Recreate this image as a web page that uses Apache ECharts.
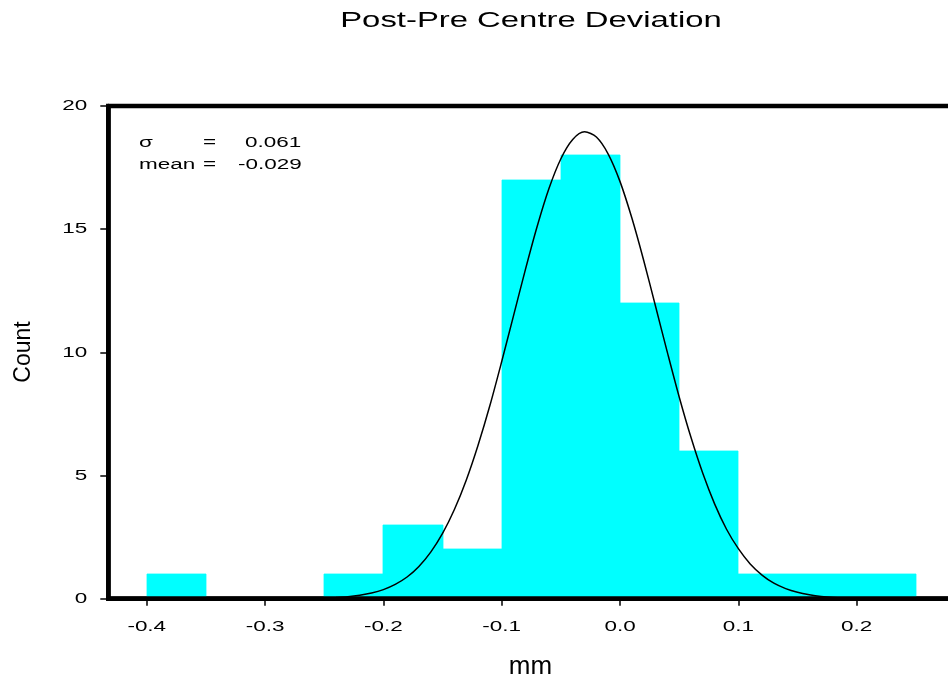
<!DOCTYPE html>
<html><head><meta charset="utf-8">
<script src="https://cdn.jsdelivr.net/npm/echarts@6/dist/echarts.min.js"></script>
<style>html,body{margin:0;padding:0;background:#fff}#c{width:948px;height:681px}</style>
</head><body><div id="c"></div>
<script>
const chartTitle = 'Post-Pre Centre Deviation';
const xAxisName = 'mm';
const yAxisName = 'Count';
const binLeft = [-0.4, -0.35, -0.3, -0.25, -0.2, -0.15, -0.1, -0.05, 0.0, 0.05, 0.1, 0.15, 0.2];
const binWidth = 0.05;
const binCounts = [1, 0, 0, 1, 3, 2, 17, 18, 12, 6, 1, 1, 1];
const curveX = [-0.25,-0.24,-0.23,-0.22,-0.21,-0.20,-0.19,-0.18,-0.17,-0.16,-0.15,-0.14,-0.13,-0.12,-0.11,-0.10,-0.09,-0.08,-0.07,-0.06,-0.05,-0.04,-0.03,-0.02,-0.01,0.00,0.01,0.02,0.03,0.04,0.05,0.06,0.07,0.08,0.09,0.10,0.11,0.12,0.13,0.14,0.15,0.16,0.17,0.18,0.19];
const curveY = [0.03,0.05,0.08,0.14,0.23,0.37,0.58,0.88,1.31,1.89,2.65,3.62,4.81,6.23,7.84,9.63,11.49,13.36,15.12,16.66,17.86,18.64,18.95,18.74,18.05,16.93,15.45,13.73,11.87,10.00,8.19,6.54,5.08,3.84,2.82,2.03,1.41,0.96,0.63,0.41,0.26,0.16,0.09,0.05,0.03];
const xTickValues = [-0.4, -0.3, -0.2, -0.1, 0.0, 0.1, 0.2];
const xTickLabels = ['-0.4', '-0.3', '-0.2', '-0.1', '0.0', '0.1', '0.2'];
const yTickValues = [0, 5, 10, 15, 20];
const yTickLabels = ['0', '5', '10', '15', '20'];
const statNames = ['\u03C3', 'mean'];
const statValues = ['0.061', '-0.029'];

const FONT = '"Liberation Sans", Arial, Helvetica, sans-serif';
const STRETCH = 1.45;
const chart = echarts.init(document.getElementById('c'), null, {renderer: 'canvas'});
const barData = binLeft.map((x, i) => [x, +(x + binWidth).toFixed(4), binCounts[i]]);
const curveData = curveX.map((x, i) => [x, curveY[i]]);

chart.setOption({
  animation: false,
  backgroundColor: '#fff',
  grid: {left: 108.3, top: 106, width: 846, height: 492.7, show: true, borderColor: '#000', borderWidth: 4.5, backgroundColor: 'transparent', outerBoundsMode: 'none', containLabel: false},
  xAxis: {
    type: 'value', min: -0.4325, max: 0.2825, z: 10,
    axisLine: {show: true, onZero: false, lineStyle: {color: '#000', width: 4.5}},
    axisTick: {show: true, customValues: xTickValues, length: 7, lineStyle: {color: '#000', width: 1.5}},
    axisLabel: {show: false}, splitLine: {show: false}
  },
  yAxis: {
    type: 'value', min: 0, max: 20, interval: 5, z: 10,
    axisLine: {show: true, onZero: false, lineStyle: {color: '#000', width: 4.5}},
    axisTick: {show: true, length: 8, lineStyle: {color: '#000', width: 1.5}},
    axisLabel: {show: false}, splitLine: {show: false}
  },
  series: [
    {
      type: 'custom', z: 2, silent: true,
      encode: {x: [0, 1], y: 2},
      data: barData,
      renderItem: function (params, api) {
        const p0 = api.coord([api.value(0), api.value(2)]);
        const p1 = api.coord([api.value(1), 0]);
        const x0 = Math.round(p0[0]), x1 = Math.round(p1[0]);
        const y0 = Math.round(p0[1]);
        return {type: 'rect', shape: {x: x0, y: y0, width: x1 - x0, height: p1[1] - y0},
          style: {fill: '#00FFFF', stroke: '#00FFFF', lineWidth: 0.8}};
      }
    },
    {
      type: 'line', z: 3, silent: true, data: curveData, showSymbol: false, symbol: 'none',
      smooth: 0.3, lineStyle: {color: '#000', width: 1.5}
    }
  ]
});

function txt(text, x, y, size, align, opts) {
  return Object.assign({
    type: 'text', x: x, y: y, silent: true, z: 20,
    scaleX: STRETCH,
    style: {text: text, fontSize: size, fontFamily: FONT, fill: '#000',
      textAlign: align, textVerticalAlign: 'middle', align: align, verticalAlign: 'middle'}
  }, opts || {});
}

const g = [];
xTickValues.forEach((v, i) => {
  const p = chart.convertToPixel({gridIndex: 0}, [v, 0]);
  g.push(txt(xTickLabels[i], p[0], p[1] + 28, 15.5, 'center'));
});
yTickValues.forEach((v, i) => {
  const p = chart.convertToPixel({gridIndex: 0}, [-0.4325, v]);
  g.push(txt(yTickLabels[i], p[0] - 21, p[1], 15.5, 'right'));
});
g.push(txt(chartTitle, 531, 20.5, 22.5, 'center', {scaleX: 1.46}));
g.push(txt(xAxisName, 530.5, 667, 26, 'center', {scaleX: 1}));
g.push(txt(yAxisName, 24, 352, 23, 'center', {scaleX: 1, rotation: Math.PI / 2}));
g.push(txt(statNames[0], 139, 143, 15.5, 'left'));
g.push(txt('=', 203, 143, 15.5, 'left'));
g.push(txt(statValues[0], 245, 143, 15.5, 'left'));
g.push(txt(statNames[1], 139, 165, 15.5, 'left'));
g.push(txt('=', 203, 165, 15.5, 'left'));
g.push(txt(statValues[1], 238, 165, 15.5, 'left'));
chart.setOption({graphic: {elements: g}});
</script>
</body></html>
